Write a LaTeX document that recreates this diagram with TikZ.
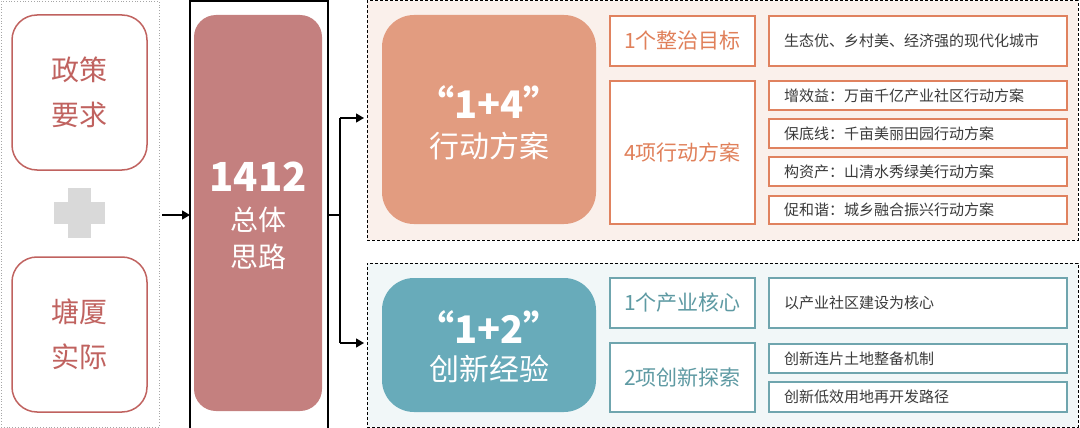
\documentclass[tikz,border=0pt]{standalone}
\usepackage{fontspec}
\setmainfont{Noto Sans CJK SC}
\usetikzlibrary{arrows.meta}
\definecolor{redline}{HTML}{C0625F}
\definecolor{pinkfill}{HTML}{C4807F}
\definecolor{orangefill}{HTML}{E29C80}
\definecolor{orangeline}{HTML}{E0825F}
\definecolor{orangetext}{HTML}{E0805A}
\definecolor{toppanel}{HTML}{FAF0EB}
\definecolor{tealfill}{HTML}{68ABBA}
\definecolor{tealline}{HTML}{6FA5AE}
\definecolor{tealtext}{HTML}{5E9AA3}
\definecolor{botpanel}{HTML}{F1F7F8}
\definecolor{plusgrey}{HTML}{D9D9D9}
\definecolor{itemtext}{HTML}{3A3A3A}
\begin{document}
\begin{tikzpicture}[x=1pt,y=-1pt,
  every node/.style={inner sep=0pt,outer sep=0pt,anchor=north west},
  leftbox/.style={draw=redline,line width=1.5pt,fill=white,rounded corners=25pt,text=redline,font=\fontsize{28}{45}\selectfont,align=center},
  panel/.style={draw=black,line width=1pt,dash pattern=on 3pt off 2pt},
  bigbox/.style={rounded corners=32pt,text=white,align=center},
  midbox/.style={draw,line width=2pt,fill=white,font=\fontsize{21}{26}\selectfont},
  itembox/.style={draw,line width=2pt,fill=white,text=itemtext,font=\fontsize{15}{18}\selectfont,align=left,text width=270pt,inner xsep=14pt},
  conn/.style={line width=1.3pt,-{Triangle[length=8pt,width=9pt]}}
]
\useasboundingbox (0,0) rectangle (1080,428);
% left dotted group
\node[draw=gray!70,dotted,line width=0.8pt,minimum width=158pt,minimum height=426pt] (leftgrp) at (1,1) {};
\node[leftbox,minimum width=135pt,minimum height=155pt] (policy) at (12,15) {政策\\要求};
\node[leftbox,minimum width=135pt,minimum height=155pt] (local) at (12,257) {塘厦\\实际};
\fill[plusgrey] (54,202) rectangle (105,224);
\fill[plusgrey] (68,188) rectangle (91,238);
% center
\node[draw=black,line width=1.2pt,minimum width=138pt,minimum height=430pt] (centerframe) at (190,1) {};
\node[bigbox,fill=pinkfill,rounded corners=22pt,minimum width=128pt,minimum height=396pt] (core) at (194,15) {};
\node[anchor=center,text=white,font=\fontsize{40}{44}\selectfont\bfseries] (num) at (258,177) {1412};
\node[anchor=center,text=white,font=\fontsize{28}{37}\selectfont,align=center] (coretext) at (258,238) {总体\\思路};
\coordinate (inpt) at (162,215);
\draw[conn] (inpt) -- (centerframe.west |- inpt);
% panels
\node[panel,fill=toppanel,minimum width=711pt,minimum height=239pt] (toppanel) at (367,1) {};
\node[panel,fill=botpanel,minimum width=711pt,minimum height=164pt] (botpanel) at (367,263) {};
% connectors
\coordinate (split) at (340,215);
\coordinate (up) at (340,118);
\coordinate (down) at (340,343);
\draw[line width=1.3pt] (centerframe.east |- split) -- (split);
\draw[line width=1.3pt] (up) -- (down);
\draw[conn] (up) -- ([xshift=-3pt]toppanel.west |- up);
\draw[conn] (down) -- ([xshift=-3pt]botpanel.west |- down);
% top panel contents
\node[bigbox,fill=orangefill,minimum width=214pt,minimum height=209pt] (plan) at (382,15) {};
\node[anchor=center,text=white,font=\fontsize{38}{42}\selectfont\bfseries] (plannum) at (489,102) {“1+4”};
\node[anchor=center,text=white,font=\fontsize{30}{36}\selectfont] (plantext) at (489,146) {行动方案};
\node[midbox,draw=orangeline,text=orangetext,minimum width=145pt,minimum height=50pt,align=center] (goal) at (610,16) {};
\node[anchor=center,text=orangetext,font=\fontsize{21}{26}\selectfont] at (goal.center) {1个整治目标};
\node[midbox,draw=orangeline,minimum width=145pt,minimum height=143pt] (four) at (610,81) {};
\node[anchor=center,text=orangetext,font=\fontsize{21}{26}\selectfont] at (four.center) {4项行动方案};
\node[itembox,draw=orangeline,minimum height=50pt] (g1) at (769,16) {};
\node[anchor=west,text=itemtext,font=\fontsize{15}{18}\selectfont] at ([xshift=15pt]g1.west) {生态优、乡村美、经济强的现代化城市};
\node[itembox,draw=orangeline,minimum height=29pt] (a1) at (769,81) {};
\node[anchor=west,text=itemtext,font=\fontsize{15}{18}\selectfont] at ([xshift=15pt]a1.west) {增效益：万亩千亿产业社区行动方案};
\node[itembox,draw=orangeline,minimum height=29pt] (a2) at (769,119) {};
\node[anchor=west,text=itemtext,font=\fontsize{15}{18}\selectfont] at ([xshift=15pt]a2.west) {保底线：千亩美丽田园行动方案};
\node[itembox,draw=orangeline,minimum height=29pt] (a3) at (769,157) {};
\node[anchor=west,text=itemtext,font=\fontsize{15}{18}\selectfont] at ([xshift=15pt]a3.west) {构资产：山清水秀绿美行动方案};
\node[itembox,draw=orangeline,minimum height=28pt] (a4) at (769,196) {};
\node[anchor=west,text=itemtext,font=\fontsize{15}{18}\selectfont] at ([xshift=15pt]a4.west) {促和谐：城乡融合振兴行动方案};
% bottom panel contents
\node[bigbox,fill=tealfill,minimum width=214pt,minimum height=134pt] (innov) at (382,278) {};
\node[anchor=center,text=white,font=\fontsize{38}{42}\selectfont\bfseries] (innovnum) at (489,327) {“1+2”};
\node[anchor=center,text=white,font=\fontsize{30}{36}\selectfont] (innovtext) at (489,369) {创新经验};
\node[midbox,draw=tealline,minimum width=145pt,minimum height=50pt] (core1) at (610,278) {};
\node[anchor=center,text=tealtext,font=\fontsize{21}{26}\selectfont] at (core1.center) {1个产业核心};
\node[midbox,draw=tealline,minimum width=145pt,minimum height=69pt] (two) at (610,343) {};
\node[anchor=center,text=tealtext,font=\fontsize{21}{26}\selectfont] at (two.center) {2项创新探索};
\node[itembox,draw=tealline,minimum height=50pt] (c1) at (769,278) {};
\node[anchor=west,text=itemtext,font=\fontsize{15}{18}\selectfont] at ([xshift=15pt]c1.west) {以产业社区建设为核心};
\node[itembox,draw=tealline,minimum height=29pt] (b1) at (769,344) {};
\node[anchor=west,text=itemtext,font=\fontsize{15}{18}\selectfont] at ([xshift=15pt]b1.west) {创新连片土地整备机制};
\node[itembox,draw=tealline,minimum height=30pt] (b2) at (769,382) {};
\node[anchor=west,text=itemtext,font=\fontsize{15}{18}\selectfont] at ([xshift=15pt]b2.west) {创新低效用地再开发路径};
\end{tikzpicture}
\end{document}
